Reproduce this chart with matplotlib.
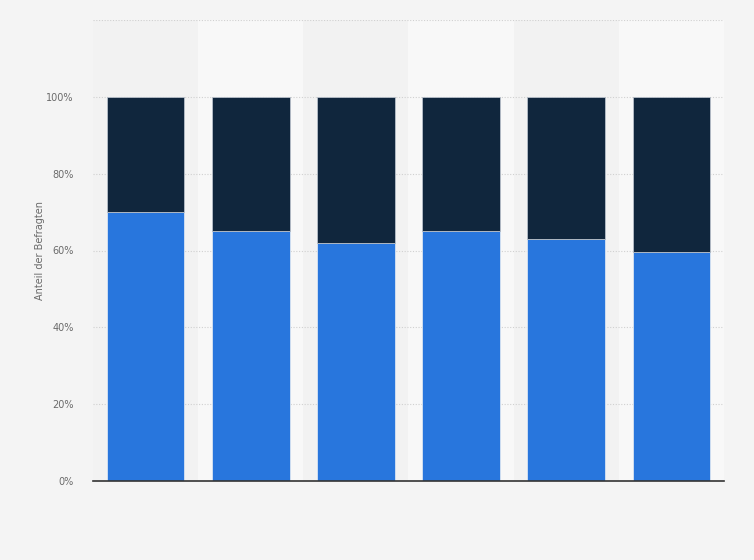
import numpy as np
import matplotlib.pyplot as plt

# share of respondents per group (percent)
groups = ['1', '2', '3', '4', '5', '6']
share_yes = [70, 65, 62, 65, 63, 59.5]
share_no = [100 - v for v in share_yes]
yticks = [0, 20, 40, 60, 80, 100, 120]
ytick_labels = ['0%', '20%', '40%', '60%', '80%', '100%', '']

fig = plt.figure(figsize=(7.54, 5.6), dpi=100, facecolor='#f4f4f4')
ax = fig.add_axes([93/754, 1 - 481/560, (724 - 93)/754, (481 - 20)/560])
ax.set_facecolor('#f4f4f4')

x = np.arange(len(groups))
# alternating column bands
for i in x:
    ax.axvspan(i - 0.5, i + 0.5, color='#f2f2f2' if i % 2 == 0 else '#f8f8f8', zorder=0, lw=0)

ax.bar(x, share_yes, width=0.74, color='#2876dd', edgecolor='#d8e4f2', linewidth=0.6, zorder=3)
ax.bar(x, share_no, width=0.74, bottom=share_yes, color='#10263d', edgecolor='#b8c0ca', linewidth=0.6, zorder=3)

ax.set_xlim(-0.5, len(groups) - 0.5)
ax.set_ylim(0, 120)
ax.set_yticks(yticks)
ax.set_yticklabels(ytick_labels)
ax.set_xticks([])
ax.tick_params(axis='y', length=0, labelsize=7, labelcolor='#6a6a6a', pad=14)
ax.grid(axis='y', linestyle=(0, (1, 1.5)), color='#d0d0d0', linewidth=0.8, zorder=1)
for s in ['top', 'right', 'left']:
    ax.spines[s].set_visible(False)
ax.spines['bottom'].set_color('#333333')
ax.spines['bottom'].set_linewidth(1.2)
ax.spines['bottom'].set_zorder(4)

fig.text(40/754, 1 - 250/560, 'Anteil der Befragten', rotation=90, ha='center', va='center',
         fontsize=7, color='#6a6a6a')

fig.savefig('out.png', dpi=100, facecolor=fig.get_facecolor())
